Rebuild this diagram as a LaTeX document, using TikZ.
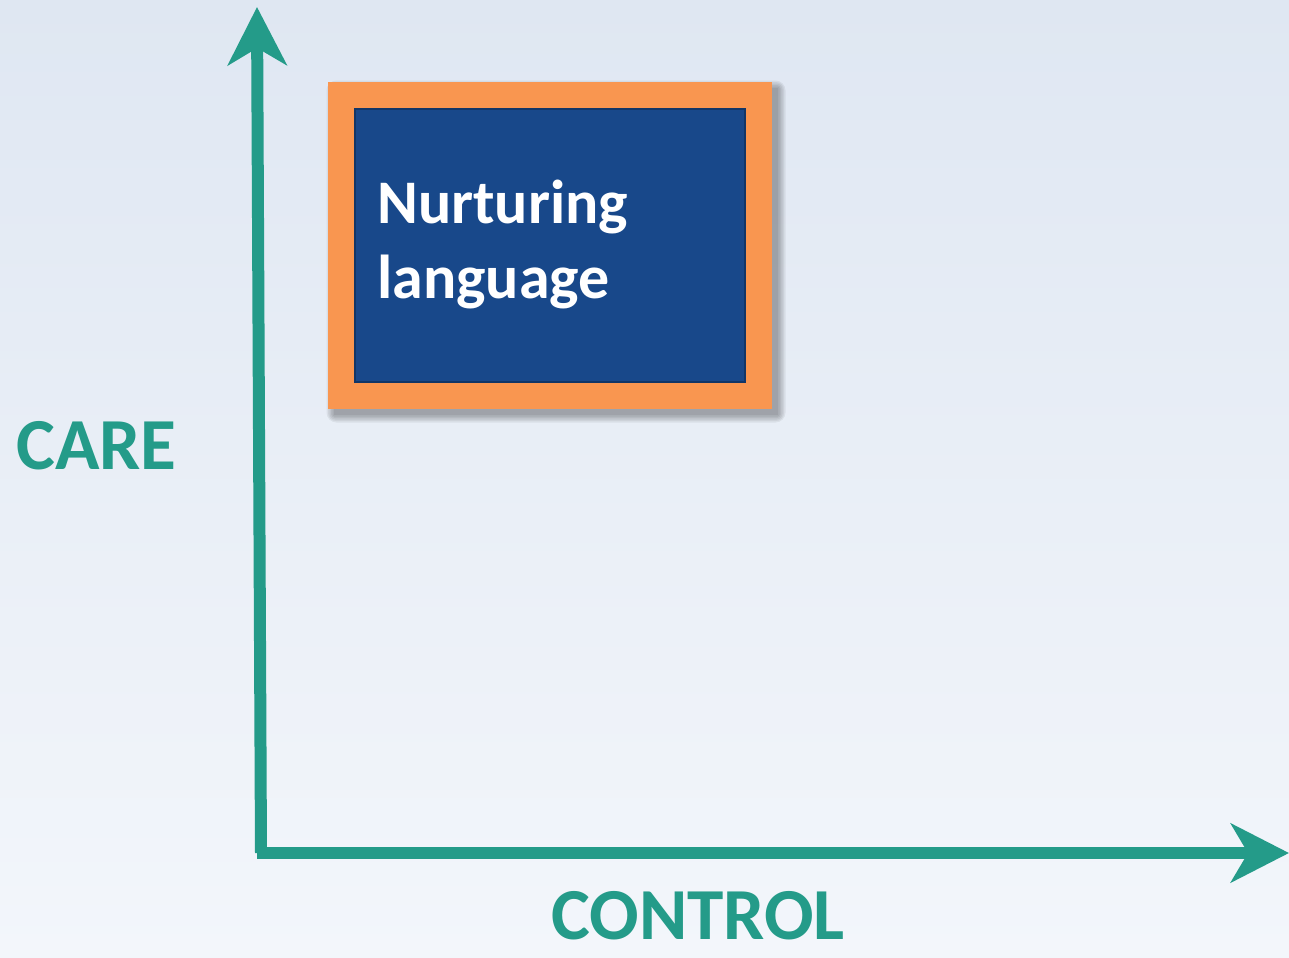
\documentclass[tikz,border=0pt]{standalone}
\usepackage{fontspec}
\setmainfont{Carlito}
\usetikzlibrary{arrows.meta}

\definecolor{axisteal}{RGB}{36,155,137}
\definecolor{boxorange}{RGB}{249,150,80}
\definecolor{boxblue}{RGB}{24,72,138}
\definecolor{bgtop}{RGB}{223,231,242}
\definecolor{bgbottom}{RGB}{243,246,251}

\begin{document}
\begin{tikzpicture}[x=0.75pt, y=-0.75pt,
        >={Stealth[length=43.5pt, width=44pt, inset=12.75pt]},
        axis/.style={draw=axisteal, line width=9pt, ->},
        axislabel/.style={text=axisteal, inner sep=0pt, font=\fontsize{55}{66}\selectfont\bfseries},
        frame/.style={fill=boxorange, inner sep=0pt, minimum width=333pt, minimum height=245.25pt},
        panel/.style={fill=boxblue, draw=boxblue!75!black, line width=1pt, inner sep=0pt,
            minimum width=292.5pt, minimum height=204.75pt},
        boxtext/.style={text=white, inner sep=0pt, font=\fontsize{46.5}{56}\selectfont\bfseries}]
            % background
            \shade[top color=bgtop, bottom color=bgbottom] (0,0) rectangle (1289,957);
            \useasboundingbox (0,0) rectangle (1289,957);

            \coordinate (origin) at (261,853);
            \coordinate (caretop) at (257,7);
            \coordinate (ctrlend) at (1289,853);

            % the two axes
            \draw[axis] (origin) -- (caretop);
            \draw[axis] ([xshift=-3pt]origin) -- (ctrlend);

            \node[axislabel, anchor=base west] (care) at (16,469) {CARE};
            \node[axislabel, anchor=base] (control) at (698,939) {CONTROL};

            % soft shadow under the box
            \foreach \d in {0,1.5,...,7.5}
                \fill[black, opacity=0.06, rounded corners=\d] (334-\d,88-\d) rectangle (778+\d,415+\d);

            % the box
            \node[frame] (frame) at (550,245.5) {};
            \node[panel] (panel) at (frame.center) {};
            \node[boxtext, anchor=base west] (nurt) at (377,223) {Nurturing};
            \node[boxtext, anchor=base west] (lang) at ([yshift=-56.25pt]nurt.base west) {language};
        \end{tikzpicture}
\end{document}
